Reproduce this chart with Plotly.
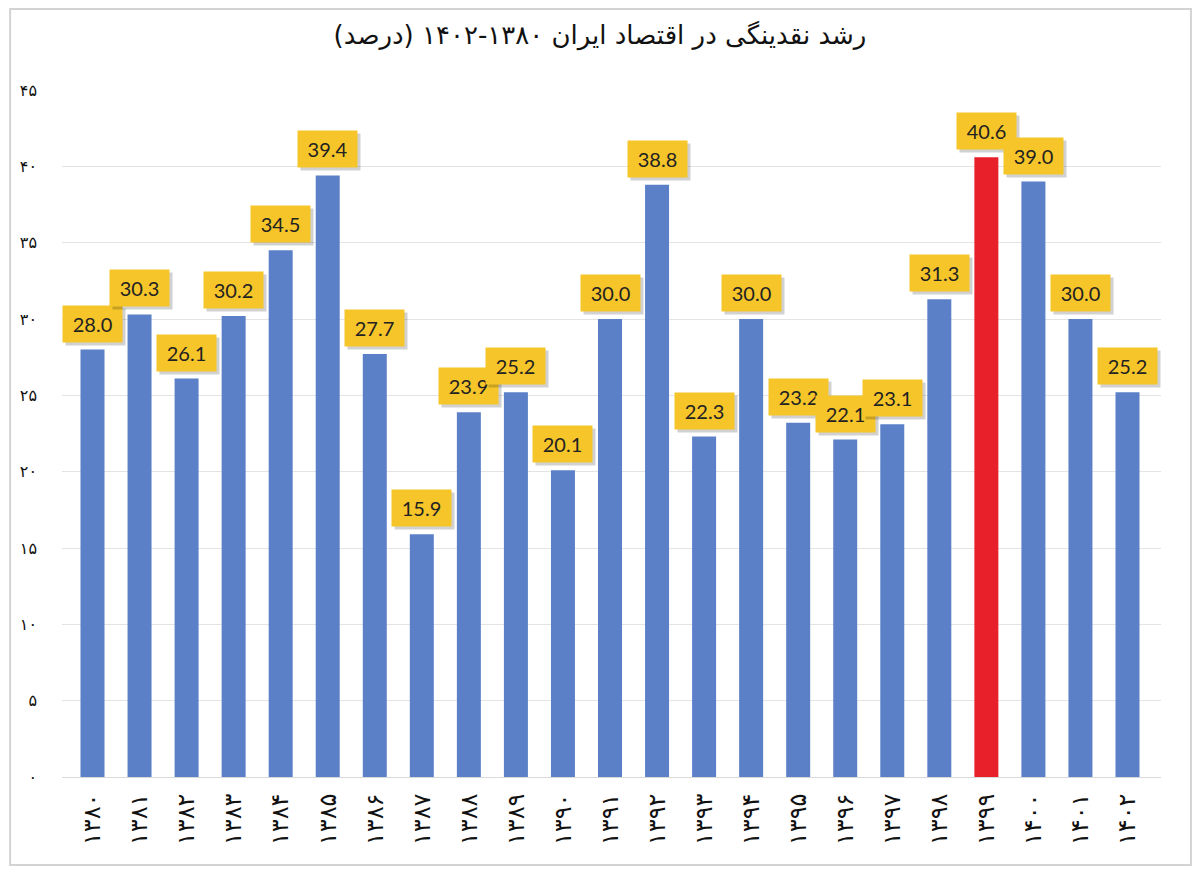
import plotly.graph_objects as go

years = ["۱۳۸۰", "۱۳۸۱", "۱۳۸۲", "۱۳۸۳", "۱۳۸۴", "۱۳۸۵", "۱۳۸۶", "۱۳۸۷",
         "۱۳۸۸", "۱۳۸۹", "۱۳۹۰", "۱۳۹۱", "۱۳۹۲", "۱۳۹۳", "۱۳۹۴", "۱۳۹۵",
         "۱۳۹۶", "۱۳۹۷", "۱۳۹۸", "۱۳۹۹", "۱۴۰۰", "۱۴۰۱", "۱۴۰۲"]
growth = [28.0, 30.3, 26.1, 30.2, 34.5, 39.4, 27.7, 15.9, 23.9, 25.2, 20.1, 30.0,
          38.8, 22.3, 30.0, 23.2, 22.1, 23.1, 31.3, 40.6, 39.0, 30.0, 25.2]
highlight_year = "۱۳۹۹"
y_ticks = [0, 5, 10, 15, 20, 25, 30, 35, 40, 45]
y_tick_labels = ["۰", "۵", "۱۰", "۱۵", "۲۰", "۲۵", "۳۰", "۳۵", "۴۰", "۴۵"]
title_text = "رشد نقدینگی در اقتصاد ایران ۱۳۸۰-۱۴۰۲ (درصد)"

colors = ["#E8202A" if y == highlight_year else "#5B80C8" for y in years]

fig = go.Figure(go.Bar(
    x=years, y=growth,
    marker=dict(color=colors, line=dict(width=0)),
    hoverinfo="x+y",
))

# yellow value boxes with a soft shadow
for yr, v in zip(years, growth):
    fig.add_annotation(x=yr, y=v, yanchor="bottom", yshift=4, xshift=3,
                       text=f"{v:.1f}", showarrow=False,
                       font=dict(size=20, color="rgba(0,0,0,0)", family="Lato"),
                       bgcolor="rgba(0,0,0,0.18)", borderpad=6, width=47)
    fig.add_annotation(x=yr, y=v, yanchor="bottom", yshift=7,
                       text=f"{v:.1f}", showarrow=False,
                       font=dict(size=20, color="#222222", family="Lato"),
                       bgcolor="#F6C52A", borderpad=6, width=47)

# the page body adds 8px round the figure, so the figure is 16px smaller
W, H = 1184, 858
ml, mr, mt, mb = 52, 31, 82, 89
# light frame round the whole chart
fig.add_shape(type="rect", xref="paper", yref="paper",
              x0=-ml / (W - ml - mr), x1=(W - ml - 1) / (W - ml - mr),
              y0=-(mb - 1) / (H - mt - mb), y1=(H - mb - 1) / (H - mt - mb),
              line=dict(color="#D3D3D3", width=2), layer="below")

fig.update_layout(
    width=W, height=H,
    title=dict(text=title_text, x=0.5, xanchor="center", y=1 - 27 / H, yanchor="middle",
               font=dict(size=26, color="#111111", family="DejaVu Sans")),
    plot_bgcolor="white", paper_bgcolor="white",
    margin=dict(l=ml, r=mr, t=mt, b=mb),
    bargap=0.49,
    showlegend=False,
    xaxis=dict(type="category", tickangle=-90, showgrid=False,
               showline=True, linecolor="#D9D9D9", linewidth=1,
               ticks="", ticklen=0, ticklabelstandoff=6,
               tickfont=dict(size=24, color="#111111", family="DejaVu Sans")),
    yaxis=dict(range=[0, 45], tickvals=y_ticks, ticktext=y_tick_labels,
               showgrid=True, gridcolor="#E3E3E3", gridwidth=1,
               zeroline=False, showline=False, ticks="",
               ticklabelstandoff=24,
               tickfont=dict(size=16, color="#111111", family="DejaVu Sans")),
)

fig.write_html("out.html")
